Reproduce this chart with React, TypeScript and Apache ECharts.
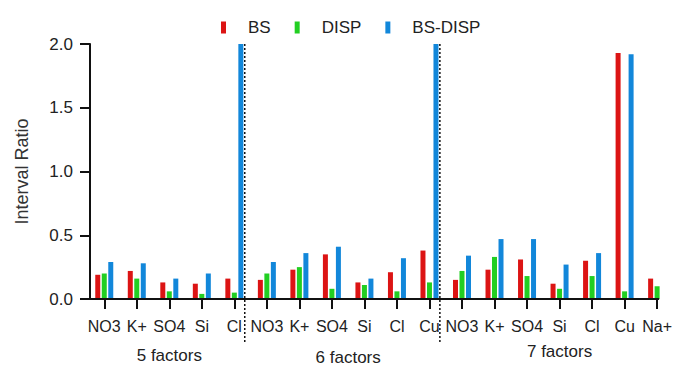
import React, { useEffect, useRef } from "react";
import * as echarts from "echarts";

const groups = ["5 factors", "6 factors", "7 factors"];
const groupSpecies = [
  ["NO3", "K+", "SO4", "Si", "Cl"],
  ["NO3", "K+", "SO4", "Si", "Cl", "Cu"],
  ["NO3", "K+", "SO4", "Si", "Cl", "Cu", "Na+"],
];
const seriesNames = ["BS", "DISP", "BS-DISP"];
const bsValues = [0.19, 0.22, 0.13, 0.12, 0.16, 0.15, 0.23, 0.35, 0.13, 0.21, 0.38, 0.15, 0.23, 0.31, 0.12, 0.30, 1.93, 0.16];
const dispValues = [0.20, 0.16, 0.06, 0.04, 0.05, 0.20, 0.25, 0.08, 0.11, 0.06, 0.13, 0.22, 0.33, 0.18, 0.08, 0.18, 0.06, 0.10];
const bsDispValues = [0.29, 0.28, 0.16, 0.20, 2.0, 0.29, 0.36, 0.41, 0.16, 0.32, 2.0, 0.34, 0.47, 0.47, 0.27, 0.36, 1.92, null];
const yTicks = { min: 0, max: 2, interval: 0.5 };

const colors = ["#dc1414", "#22cf22", "#1287da"];
const FONT = "'Liberation Sans', Arial, Helvetica, sans-serif";

export default function App() {
  const ref = useRef<HTMLDivElement>(null);
  useEffect(() => {
    if (!ref.current) return;
    const chart = echarts.init(ref.current, null, { renderer: "svg" });
    const keys: string[] = [];
    groupSpecies.forEach((sp, g) => sp.forEach((s, i) => keys.push(s + "|" + g + "|" + i)));
    const values = [bsValues, dispValues, bsDispValues];
    chart.setOption({
      animation: false,
      textStyle: { fontFamily: FONT },
      grid: { left: 88, right: 1, top: 44, bottom: 67, containLabel: false },
      legend: {
        data: seriesNames,
        left: 216,
        top: 14,
        icon: "rect",
        itemWidth: 5,
        itemHeight: 12,
        itemGap: 24,
        textStyle: { fontSize: 17, color: "#222", fontFamily: FONT, padding: [0, 0, 0, 17] },
      },
      xAxis: {
        type: "category",
        data: keys,
        boundaryGap: true,
        axisLine: { show: false },
        axisTick: { show: true, alignWithLabel: true, interval: 0, length: 10, lineStyle: { color: "#111", width: 2 } },
        axisLabel: {
          interval: 0,
          fontSize: 16,
          color: "#222",
          margin: 19,
          fontFamily: FONT,
          formatter: (v: string) => v.split("|")[0],
        },
        splitLine: { show: false },
      },
      yAxis: {
        type: "value",
        min: yTicks.min,
        max: yTicks.max,
        interval: yTicks.interval,
        offset: -2,
        name: "Interval Ratio",
        nameLocation: "middle",
        nameGap: 59,
        nameTextStyle: { fontSize: 18, color: "#333", fontFamily: FONT },
        axisLine: { show: true, lineStyle: { color: "#111", width: 2 } },
        axisTick: { show: true, length: 10, lineStyle: { color: "#111", width: 2 } },
        axisLabel: { fontSize: 17, color: "#222", margin: 17, fontFamily: FONT, formatter: (v: number) => v.toFixed(1) },
        splitLine: { show: false },
      },
      series: seriesNames.map((name, k) => ({
        name,
        type: "bar",
        data: values[k],
        barWidth: 5,
        barGap: "30%",
        itemStyle: { color: colors[k] },
      })),
    });

    const px = (i: number) => chart.convertToPixel({ xAxisIndex: 0 }, i) as number;
    const py = (v: number) => chart.convertToPixel({ yAxisIndex: 0 }, v) as number;
    const band = px(1) - px(0);
    const last = keys.length - 1;
    const y0 = py(0);
    const yTop = py(yTicks.max);
    const graphics: any[] = [];
    graphics.push({
      type: "line",
      shape: { x1: px(0) - band / 2 + 2, y1: y0, x2: px(last) + 2, y2: y0 },
      style: { stroke: "#111", lineWidth: 2 },
      z: 10,
    });
    let start = 0;
    const labelDy = [56, 58, 52];
    groupSpecies.forEach((sp, g) => {
      const end = start + sp.length - 1;
      const mid = start + Math.floor(sp.length / 2);
      const midX = sp.length % 2 === 1 ? px(mid) : (px(mid - 1) + px(mid)) / 2;
      graphics.push({
        type: "text",
        x: midX,
        y: y0 + labelDy[g],
        style: {
          text: groups[g],
          fontSize: 17,
          fontFamily: FONT,
          fill: "#222",
          textAlign: "center",
          textVerticalAlign: "middle",
        },
      });
      if (g < groupSpecies.length - 1) {
        const sx = px(end) + band * 0.32;
        graphics.push({
          type: "line",
          shape: { x1: sx, y1: yTop, x2: sx, y2: y0 + 44 },
          style: { stroke: "#111", lineWidth: 1.5, lineDash: [2, 2] },
          z: 10,
        });
      }
      start = end + 1;
    });
    chart.setOption({ graphic: graphics });
    return () => chart.dispose();
  }, []);
  return <div ref={ref} style={{ position: "absolute", left: 0, top: 0, width: 675, height: 366, background: "#fff" }} />;
}
